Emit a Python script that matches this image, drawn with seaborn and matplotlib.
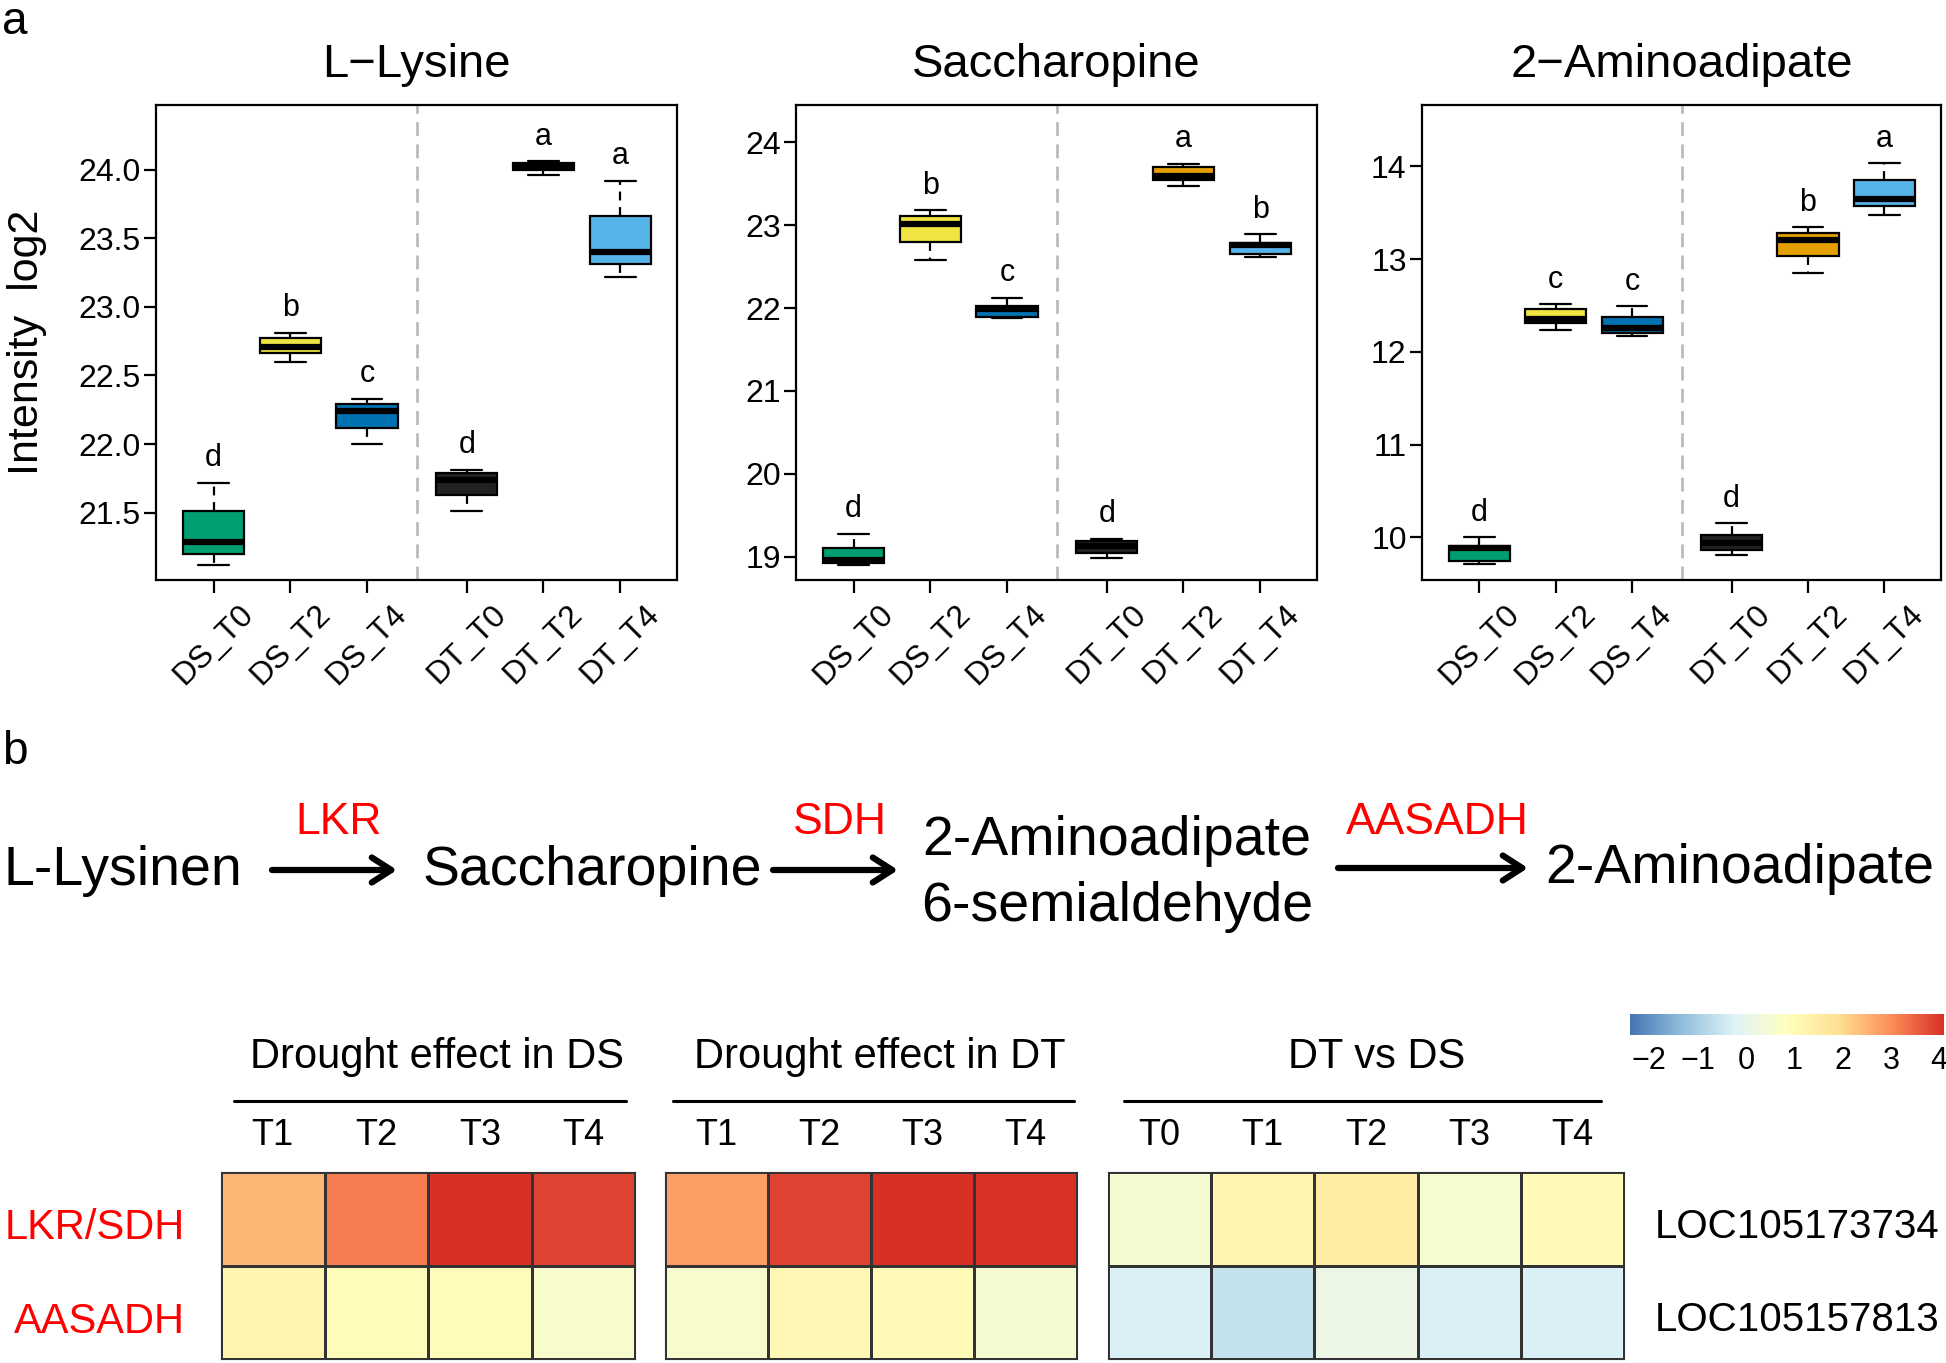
import matplotlib
matplotlib.use("Agg")
import matplotlib.pyplot as plt
import matplotlib.transforms as mtrans
import seaborn as sns
import pandas as pd
import numpy as np
from matplotlib.colors import LinearSegmentedColormap

groups = ["DS_T0", "DS_T2", "DS_T4", "DT_T0", "DT_T2", "DT_T4"]
group_pos = [1, 2, 3, 4.3, 5.3, 6.3]
group_colors = ["#009E73", "#F0E442", "#0072B2", "#222222", "#E69F00", "#56B4E9"]

# five-number summaries: low whisker, Q1, median, Q3, high whisker
lysine = [[21.12, 21.20, 21.29, 21.51, 21.72],
          [22.60, 22.66, 22.71, 22.77, 22.81],
          [22.00, 22.12, 22.24, 22.29, 22.33],
          [21.51, 21.63, 21.74, 21.79, 21.81],
          [23.96, 24.00, 24.02, 24.05, 24.06],
          [23.22, 23.31, 23.40, 23.66, 23.92]]
saccharopine = [[18.90, 18.92, 18.96, 19.11, 19.28],
                [22.58, 22.80, 23.01, 23.11, 23.18],
                [21.88, 21.89, 21.99, 22.03, 22.12],
                [18.98, 19.05, 19.13, 19.19, 19.22],
                [23.47, 23.54, 23.59, 23.70, 23.74],
                [22.62, 22.65, 22.76, 22.79, 22.89]]
aminoadipate = [[9.71, 9.75, 9.88, 9.91, 10.00],
                [12.23, 12.31, 12.35, 12.46, 12.51],
                [12.17, 12.20, 12.26, 12.38, 12.49],
                [9.81, 9.86, 9.94, 10.02, 10.15],
                [12.85, 13.03, 13.21, 13.28, 13.34],
                [13.47, 13.57, 13.65, 13.85, 14.03]]
lysine_letters = ["d", "b", "c", "d", "a", "a"]
saccharopine_letters = ["d", "b", "c", "d", "a", "b"]
aminoadipate_letters = ["d", "c", "c", "d", "b", "a"]
titles = ["L\u2212Lysine", "Saccharopine", "2\u2212Aminoadipate"]
ylims = [(21.01, 24.47), (18.72, 24.45), (9.54, 14.66)]
yticks = [[21.5, 22.0, 22.5, 23.0, 23.5, 24.0], [19, 20, 21, 22, 23, 24], [10, 11, 12, 13, 14]]
ytick_fmt = ["{:.1f}", "{:.0f}", "{:.0f}"]

# pathway
compounds = ["L-Lysinen", "Saccharopine", "2-Aminoadipate\n6-semialdehyde", "2-Aminoadipate"]
enzymes_path = ["LKR", "SDH", "AASADH"]

# heatmap (log2 fold change)
ds_cols = ["T1", "T2", "T3", "T4"]
dt_cols = ["T1", "T2", "T3", "T4"]
cmp_cols = ["T0", "T1", "T2", "T3", "T4"]
enzyme_rows = ["LKR/SDH", "AASADH"]
gene_ids = ["LOC105173734", "LOC105157813"]
ds_effect = [[2.45, 3.2, 4.1, 3.85], [1.2, 1.0, 0.95, 0.6]]
dt_effect = [[2.8, 3.85, 4.1, 4.05], [0.6, 1.1, 1.05, 0.5]]
dt_vs_ds = [[0.5, 1.2, 1.5, 0.55, 1.05], [-0.3, -0.6, 0.15, -0.3, -0.3]]
headers = ["Drought effect in DS", "Drought effect in DT", "DT vs DS"]

sns.set_style("ticks")
plt.rcParams["font.family"] = ["Liberation Sans", "DejaVu Sans"]
plt.rcParams["axes.unicode_minus"] = True
for key in ["text.color", "axes.labelcolor", "xtick.color", "ytick.color", "axes.edgecolor"]:
    plt.rcParams[key] = "black"

W, H = 1946, 1363


def px(x0, y0, x1, y1):
    return [x0 / W, 1 - y1 / H, (x1 - x0) / W, (y1 - y0) / H]


fig = plt.figure(figsize=(W / 100, H / 100), dpi=100)
ov = fig.add_axes([0, 0, 1, 1])
ov.set_xlim(0, W)
ov.set_ylim(H, 0)
ov.axis("off")

# ---- panel a: box plots ----
box_rects = [px(156, 105, 677, 580), px(796, 105, 1317, 580), px(1422, 105, 1941, 580)]
datasets = [lysine, saccharopine, aminoadipate]
letter_sets = [lysine_letters, saccharopine_letters, aminoadipate_letters]
palette = dict(zip(groups, group_colors))

for i, (rect, vals, letters) in enumerate(zip(box_rects, datasets, letter_sets)):
    ax = fig.add_axes(rect)
    df = pd.DataFrame({
        "pos": np.repeat(group_pos, 5),
        "group": np.repeat(groups, 5),
        "value": np.ravel(vals),
    })
    sns.boxplot(data=df, x="pos", y="value", hue="group", palette=palette,
                native_scale=True, width=0.8, whis=(0, 100), saturation=1,
                linecolor="black", linewidth=1.6, legend=False, ax=ax,
                medianprops=dict(linewidth=4.5),
                whiskerprops=dict(linestyle=(0, (4, 3))))
    ax.axvline((group_pos[2] + group_pos[3]) / 2, color="#bbbbbb", lw=2, ls=(0, (5, 3)))
    lo, hi = ylims[i]
    for p, v, l in zip(group_pos, vals, letters):
        ax.text(p, max(v) + 0.052 * (hi - lo), l, ha="center", va="center", fontsize=22)
    ax.set_xlim(0.25, 7.04)
    ax.set_ylim(lo, hi)
    ax.set_xticks(group_pos)
    ax.set_xticklabels(groups, rotation=45, ha="center", va="top", fontsize=23)
    ax.set_yticks(yticks[i])
    ax.set_yticklabels([ytick_fmt[i].format(t) for t in yticks[i]], fontsize=23)
    ax.tick_params(axis="both", length=9, width=1.6, color="black")
    ax.tick_params(axis="x", pad=5)
    ax.tick_params(axis="y", pad=2)
    for s in ax.spines.values():
        s.set_linewidth(1.6)
        s.set_color("black")
    ax.set_xlabel("")
    ax.set_ylabel("")
    ax.set_title(titles[i], fontsize=34, pad=20)
    if i == 0:
        ax.set_ylabel("Intensity  log2", fontsize=31)
        ax.yaxis.set_label_coords(-0.21, 0.5)

ov.text(2, 22, "a", fontsize=33, va="center", ha="left")
ov.text(2, 752, "b", fontsize=33, va="center", ha="left")

# ---- panel b: pathway ----
ov.text(123, 871, compounds[0], fontsize=40, ha="center", va="center")
ov.text(592, 871, compounds[1], fontsize=40, ha="center", va="center")
ov.text(1117, 874, compounds[2], fontsize=40, ha="center", va="center", linespacing=1.35)
ov.text(1740, 869, compounds[3], fontsize=40, ha="center", va="center")
for name, (x0, x1, y) in zip(enzymes_path, [(272, 397, 870), (773, 898, 870), (1338, 1528, 868)]):
    ov.annotate("", xy=(x1, y), xytext=(x0, y),
                arrowprops=dict(arrowstyle="->,head_length=0.7,head_width=0.45", lw=4.5,
                                color="black", mutation_scale=20, shrinkA=0, shrinkB=0))
    ov.text((x0 + x1) / 2 + 4, 823, name, fontsize=32, color="red", ha="center", va="center")

# ---- heatmaps ----
cmap = LinearSegmentedColormap.from_list(
    "rdylbu7", ["#4575b4", "#91bfdb", "#e0f3f8", "#ffffbf", "#fee090", "#fc8d59", "#d73027"])
vmin, vmax = -2.4, 4.1
heat_rects = [px(221, 1172, 635, 1359), px(665, 1172, 1077, 1359), px(1108, 1172, 1624, 1359)]
heat_data = [(ds_effect, ds_cols), (dt_effect, dt_cols), (dt_vs_ds, cmp_cols)]
header_pos = [(437, 234, 626), (880, 673, 1074), (1377, 1124, 1601)]
heat_axes = []
for j, (rect, (vals, cols)) in enumerate(zip(heat_rects, heat_data)):
    hax = fig.add_axes(rect)
    hdf = pd.DataFrame(vals, columns=cols, index=enzyme_rows)
    sns.heatmap(hdf, ax=hax, cmap=cmap, vmin=vmin, vmax=vmax, cbar=False,
                linewidths=0.8, linecolor="#333333")
    for s in hax.spines.values():
        s.set_visible(True)
        s.set_linewidth(0.8)
        s.set_color("#333333")
    hax.xaxis.tick_top()
    hax.set_xticklabels(cols, rotation=0, fontsize=26)
    hax.tick_params(axis="x", length=0, pad=14)
    hax.set_xlabel("")
    hax.set_ylabel("")
    if j == 0:
        hax.set_yticklabels(enzyme_rows, rotation=0, fontsize=30, color="red")
        hax.tick_params(axis="y", length=0, pad=26)
        shift = mtrans.ScaledTranslation(0, -7 / 72, fig.dpi_scale_trans)
        for lab in hax.get_yticklabels():
            lab.set_transform(lab.get_transform() + shift)
    elif j == 2:
        hax.yaxis.tick_right()
        hax.set_yticklabels(gene_ids, rotation=0, fontsize=29)
        hax.tick_params(axis="y", length=0, pad=22)
        shift = mtrans.ScaledTranslation(0, -3 / 72, fig.dpi_scale_trans)
        for lab in hax.get_yticklabels():
            lab.set_transform(lab.get_transform() + shift)
    else:
        hax.set_yticks([])
    cx, ux0, ux1 = header_pos[j]
    ov.text(cx, 1057, headers[j], fontsize=30, ha="center", va="center")
    ov.plot([ux0, ux1], [1101, 1101], color="black", lw=2.2)
    heat_axes.append(hax)

cax = fig.add_axes(px(1630, 1014, 1944, 1035))
cb = fig.colorbar(heat_axes[0].collections[0], cax=cax, orientation="horizontal",
                  ticks=[-2, -1, 0, 1, 2, 3, 4])
cb.outline.set_visible(False)
cax.tick_params(length=0, labelsize=22, pad=8)

fig.savefig("out.png", dpi=100)
